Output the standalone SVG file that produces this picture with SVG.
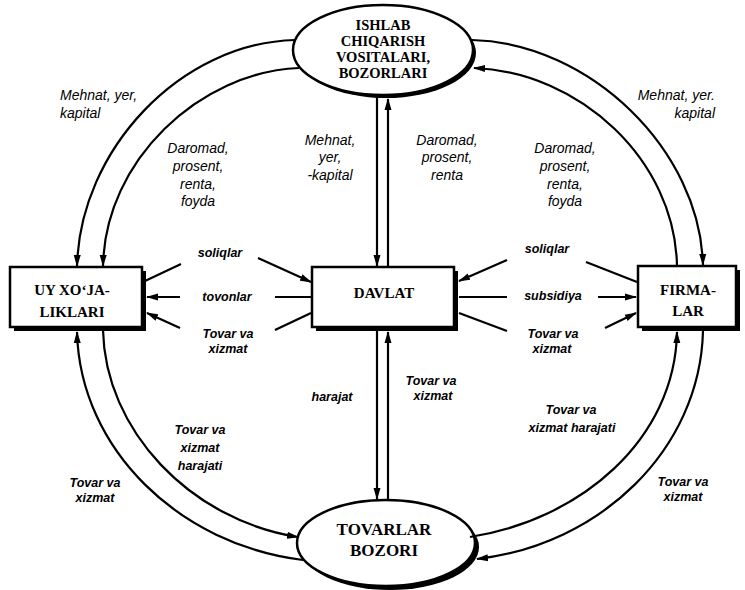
<svg xmlns="http://www.w3.org/2000/svg" width="745" height="590" viewBox="0 0 745 590">
<defs>
<marker id="ah" markerWidth="12" markerHeight="8" refX="11" refY="4" orient="auto" markerUnits="userSpaceOnUse"><path d="M0,0.5 L12,4 L0,7.5 z" fill="#000"/></marker>
<style>
.nt{font-family:"Liberation Serif","Times New Roman",serif;font-weight:bold;fill:#000;text-anchor:middle}
.lb{font-family:"Liberation Sans",Arial,sans-serif;font-style:italic;font-size:14px;fill:#000;text-anchor:middle}
.lb2{font-family:"Liberation Sans",Arial,sans-serif;font-style:italic;font-weight:bold;font-size:12.5px;fill:#000;text-anchor:middle}
.sh{fill:#000}
.face{fill:#fff;stroke:#000;stroke-width:2.5}
.c{fill:none;stroke:#000;stroke-width:2.2}
.a{fill:none;stroke:#000;stroke-width:2.2;marker-end:url(#ah)}
</style>
</defs>
<rect width="745" height="590" fill="#fff"/>

<g id="ishlab">
<ellipse class="sh" cx="386" cy="53" rx="90" ry="45"/>
<ellipse class="face" cx="383" cy="50" rx="90" ry="45"/>
<text class="nt" font-size="14.5" x="383" y="30">ISHLAB</text>
<text class="nt" font-size="14.5" x="383" y="46">CHIQARISH</text>
<text class="nt" font-size="14.5" x="383" y="62">VOSITALARI,</text>
<text class="nt" font-size="14.5" x="383" y="78">BOZORLARI</text>
</g>

<g id="uy">
<rect class="sh" x="14" y="271" width="132" height="60"/>
<rect class="face" x="10" y="267" width="132" height="60"/>
<text class="nt" font-size="15" x="72" y="295">UY XO‘JA-</text>
<text class="nt" font-size="15" x="72" y="317">LIKLARI</text>
</g>

<g id="davlat">
<rect class="sh" x="316" y="271" width="142" height="60"/>
<rect class="face" x="312" y="267" width="142" height="60"/>
<text class="nt" font-size="15" x="384" y="298">DAVLAT</text>
</g>

<g id="firmalar">
<rect class="sh" x="642" y="270" width="98" height="61"/>
<rect class="face" x="638" y="266" width="98" height="61"/>
<text class="nt" font-size="15" x="688" y="295">FIRMA-</text>
<text class="nt" font-size="15" x="688" y="316">LAR</text>
</g>

<g id="tovarlar">
<ellipse class="sh" cx="390" cy="547" rx="89" ry="43"/>
<ellipse class="face" cx="386" cy="543" rx="89" ry="43"/>
<text class="nt" font-size="17" x="384" y="535">TOVARLAR</text>
<text class="nt" font-size="17" x="384" y="556">BOZORI</text>
</g>

<g id="connectors">
<path class="a" d="M295 40 C180 43 80 150 77 266"/>
<path class="a" d="M299 68 C200 72 105 160 103 266"/>
<path class="a" d="M472 40 C590 43 700 150 703 265"/>
<path class="a" d="M677 266 C675 160 580 72 474 68"/>
<path class="a" d="M103 330 C105 430 190 520 298 537"/>
<path class="a" d="M303 560 C180 545 80 450 77 332"/>
<path class="a" d="M470 537 C580 520 675 440 677 332"/>
<path class="a" d="M703 331 C700 450 600 545 477 559"/>
<path class="a" d="M377 95 L377 266"/>
<path class="a" d="M388 266 L388 99"/>
<path class="a" d="M377 331 L377 499"/>
<path class="a" d="M388 499 L388 332"/>
<path class="c" d="M145 281 L181 264"/>
<path class="a" d="M258 258 L311 282"/>
<path class="c" d="M311 297 L275 297"/>
<path class="a" d="M180 297 L147 297"/>
<path class="c" d="M311 313 L275 330"/>
<path class="a" d="M180 328 L147 313"/>
<path class="c" d="M637 282 L586 262"/>
<path class="a" d="M507 260 L459 281"/>
<path class="c" d="M459 297 L507 297"/>
<path class="a" d="M598 297 L636 297"/>
<path class="c" d="M459 313 L507 331"/>
<path class="a" d="M605 328 L636 313"/>
</g>

<g id="labels">
<text class="lb" style="text-anchor:start" x="60" y="100">Mehnat, yer,</text>
<text class="lb" style="text-anchor:start" x="60" y="118">kapital</text>
<text class="lb" x="198" y="153">Daromad,</text>
<text class="lb" x="198" y="171">prosent,</text>
<text class="lb" x="198" y="189">renta,</text>
<text class="lb" x="198" y="206">foyda</text>
<text class="lb" style="text-anchor:end" x="715" y="100">Mehnat, yer.</text>
<text class="lb" style="text-anchor:end" x="715" y="118">kapital</text>
<text class="lb" x="565" y="153">Daromad,</text>
<text class="lb" x="565" y="171">prosent,</text>
<text class="lb" x="565" y="189">renta,</text>
<text class="lb" x="565" y="206">foyda</text>
<text class="lb" x="330" y="145">Mehnat,</text>
<text class="lb" x="330" y="162">yer,</text>
<text class="lb" x="330" y="180">-kapital</text>
<text class="lb" x="447" y="145">Daromad,</text>
<text class="lb" x="447" y="162">prosent,</text>
<text class="lb" x="447" y="180">renta</text>
<text class="lb2" x="220" y="257">soliqlar</text>
<text class="lb2" x="227" y="301">tovonlar</text>
<text class="lb2" x="228" y="338">Tovar va</text>
<text class="lb2" x="228" y="353">xizmat</text>
<text class="lb2" x="547" y="253">soliqlar</text>
<text class="lb2" x="553" y="300">subsidiya</text>
<text class="lb2" x="553" y="338">Tovar va</text>
<text class="lb2" x="552" y="353">xizmat</text>
<text class="lb2" x="332" y="401">harajat</text>
<text class="lb2" x="431" y="385">Tovar va</text>
<text class="lb2" x="433" y="400">xizmat</text>
<text class="lb2" x="200" y="434">Tovar va</text>
<text class="lb2" x="200" y="452">xizmat</text>
<text class="lb2" x="200" y="470">harajati</text>
<text class="lb2" x="95" y="487">Tovar va</text>
<text class="lb2" x="95" y="502">xizmat</text>
<text class="lb2" x="571" y="414">Tovar va</text>
<text class="lb2" x="572" y="432">xizmat harajati</text>
<text class="lb2" x="683" y="486">Tovar va</text>
<text class="lb2" x="683" y="501">xizmat</text>
</g>
</svg>
